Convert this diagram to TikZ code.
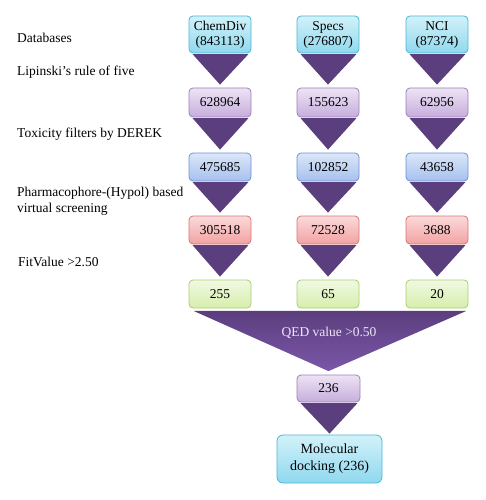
\documentclass[tikz,border=0pt]{standalone}
\usepackage{fontspec}
\setmainfont{Liberation Serif}
\usetikzlibrary{calc}
\definecolor{cyT}{HTML}{D2F2FA}\definecolor{cyB}{HTML}{8FD8EE}\definecolor{cyD}{HTML}{4CB6D6}
\definecolor{lvT}{HTML}{EDE3F5}\definecolor{lvB}{HTML}{C6AEDB}\definecolor{lvD}{HTML}{9C80BC}
\definecolor{blT}{HTML}{DCE7F9}\definecolor{blB}{HTML}{A6C0EE}\definecolor{blD}{HTML}{6F90D2}
\definecolor{pkT}{HTML}{FBDADA}\definecolor{pkB}{HTML}{F2A2A2}\definecolor{pkD}{HTML}{D97676}
\definecolor{grT}{HTML}{F1F9E2}\definecolor{grB}{HTML}{D6EEAC}\definecolor{grD}{HTML}{A8CF6E}
\definecolor{tri}{HTML}{5B3E7E}
\definecolor{triB}{HTML}{7B57A8}
\definecolor{qed}{HTML}{EDE6F5}
\begin{document}
\begin{tikzpicture}[x=1pt,y=-1pt,
  box/.style={draw, rounded corners=4pt, line width=0.8pt, minimum width=62pt, inner sep=1pt,
    align=center, font=\fontsize{13.5}{15}\selectfont},
  cybox/.style={box, top color=cyT, bottom color=cyB, draw=cyD},
  lvbox/.style={box, top color=lvT, bottom color=lvB, draw=lvD},
  blbox/.style={box, top color=blT, bottom color=blB, draw=blD},
  pkbox/.style={box, top color=pkT, bottom color=pkB, draw=pkD},
  grbox/.style={box, top color=grT, bottom color=grB, draw=grD},
  lbl/.style={anchor=west, align=left, inner sep=0pt, font=\fontsize{13.5}{16}\selectfont},
  arrowtri/.style={fill=tri, draw=none}
]
\useasboundingbox (0,0) rectangle (485,500);

% row 1
\node[cybox, minimum height=37pt] (a1) at (220,34.5) {ChemDiv\\(843113)};
\node[cybox, minimum height=37pt] (a2) at (328,34.5) {Specs\\(276807)};
\node[cybox, minimum height=37pt] (a3) at (437,34.5) {NCI\\(87374)};
% row 2
\node[lvbox, minimum height=29pt] (b1) at (220,102.5) {628964};
\node[lvbox, minimum height=29pt] (b2) at (328,102.5) {155623};
\node[lvbox, minimum height=29pt] (b3) at (437,102.5) {62956};
% row 3
\node[blbox, minimum height=28pt] (c1) at (220,167) {475685};
\node[blbox, minimum height=28pt] (c2) at (328,167) {102852};
\node[blbox, minimum height=28pt] (c3) at (437,167) {43658};
% row 4
\node[pkbox, minimum height=28pt] (d1) at (220,230) {305518};
\node[pkbox, minimum height=28pt] (d2) at (328,230) {72528};
\node[pkbox, minimum height=28pt] (d3) at (437,230) {3688};
% row 5
\node[grbox, minimum height=28pt] (e1) at (220,294) {255};
\node[grbox, minimum height=28pt] (e2) at (328,294) {65};
\node[grbox, minimum height=28pt] (e3) at (437,294) {20};
% row 6
\node[lvbox, minimum height=27pt, minimum width=63pt] (f) at (328.5,388.5) {236};
% final
\node[cybox, minimum height=48pt, minimum width=105pt, rounded corners=6pt,
  font=\fontsize{14}{17}\selectfont] (g) at (329.5,459) {Molecular\\docking (236)};

% column triangles
\foreach \u/\v in {a/b,b/c,c/d,d/e}{
  \foreach \i in {1,2,3}{
    \path[arrowtri] ($(\u\i.south west)+(4,0.8)$) -- ($(\u\i.south east)+(-3,0.8)$)
      -- ($(\v\i.north)+(0,-3)$) -- cycle;
  }
}
% big triangle
\path[top color=tri, bottom color=triB, draw=none]
  ($(e1.south west)+(5,2.5)$) -- ($(e3.south east)+(-2,2.5)$) -- ($(f.north)+(0,-3.5)$) -- cycle;
\node[text=qed, font=\fontsize{13.5}{15}\selectfont] (q) at (329,333) {QED value >0.50};
% lower triangle
\path[arrowtri] ($(f.south west)+(4,0.8)$) -- ($(f.south east)+(-3,0.8)$) -- ($(g.north)+(0,-1)$) -- cycle;

% left labels
\node[lbl] (l1) at (17,38) {Databases};
\node[lbl] (l2) at (17,72) {Lipinski's rule of five};
\node[lbl] (l3) at (17,134) {Toxicity filters by DEREK};
\node[lbl] (l4) at (17,201) {Pharmacophore-(Hypol) based\\virtual screening};
\node[lbl] (l5) at (18,262) {FitValue >2.50};
\end{tikzpicture}
\end{document}
